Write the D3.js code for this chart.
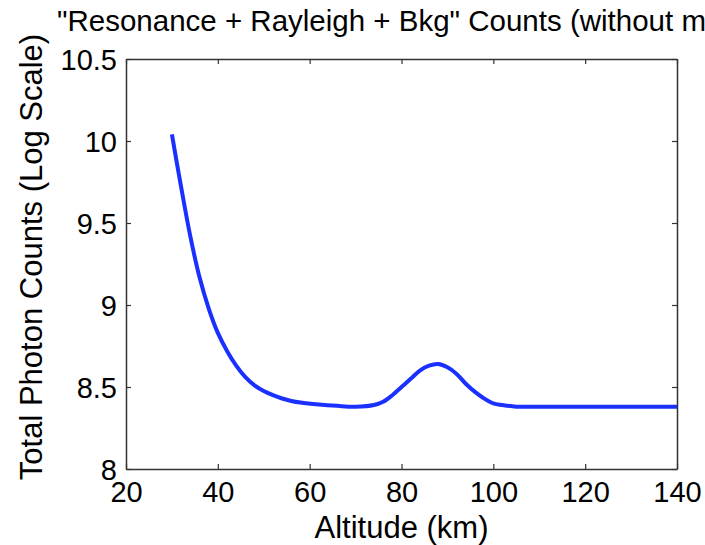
<!DOCTYPE html>
<meta charset="utf-8">
<title>Resonance + Rayleigh + Bkg Counts</title>
<script src="https://cdn.jsdelivr.net/npm/d3@7"></script>
<style>
  body { margin: 0; background: #fff; }
  svg text { font-family: "Liberation Sans", Arial, Helvetica, sans-serif; fill: #000; }
  .axis path, .axis line { stroke: #333; }
</style>
<body>
<svg></svg>
<script>
// altitude (km) and log10 photon counts
var altitude = [30, 32, 34, 36, 38, 40, 42, 44, 46, 48, 50, 52, 54, 56, 58, 62, 66, 70,
                74, 76, 78, 80, 82, 84, 86, 88, 90, 92, 94, 96, 98, 100, 102, 105, 110, 140];
var counts = [10.04, 9.72, 9.42, 9.17, 8.98, 8.83, 8.72, 8.63, 8.56, 8.51, 8.475, 8.45, 8.43, 8.415, 8.405, 8.393, 8.385, 8.38,
              8.39, 8.41, 8.45, 8.50, 8.55, 8.60, 8.63, 8.64, 8.62, 8.58, 8.52, 8.47, 8.43, 8.40, 8.39, 8.38, 8.38, 8.38];

var xTicks = [20, 40, 60, 80, 100, 120, 140];
var yTicks = [8, 8.5, 9, 9.5, 10, 10.5];

var width = 705, height = 545;
var margin = {top: 59, right: 28, bottom: 76, left: 126};

var svg = d3.select("svg")
    .attr("width", width)
    .attr("height", height);

var x = d3.scaleLinear().domain([20, 140]).range([margin.left, width - margin.right]);
var y = d3.scaleLinear().domain([8, 10.5]).range([height - margin.bottom, margin.top]);

var fmt = function(d) { return String(d); };

// box with inward ticks on all sides (matlab style)
svg.append("g").attr("class", "axis")
    .attr("transform", "translate(0," + y(8) + ")")
    .call(d3.axisBottom(x).tickValues(xTicks).tickFormat(fmt).tickSizeInner(-5).tickSizeOuter(0).tickPadding(12))
    .call(function(g) { g.selectAll("text").attr("font-size", 29).attr("dy", "0.72em"); });

svg.append("g").attr("class", "axis")
    .attr("transform", "translate(0," + y(10.5) + ")")
    .call(d3.axisTop(x).tickValues(xTicks).tickFormat("").tickSizeInner(-5).tickSizeOuter(0));

svg.append("g").attr("class", "axis")
    .attr("transform", "translate(" + x(20) + ",0)")
    .call(d3.axisLeft(y).tickValues(yTicks).tickFormat(fmt).tickSizeInner(-5).tickSizeOuter(0).tickPadding(9))
    .call(function(g) { g.selectAll("text").attr("font-size", 29).attr("dy", "0.36em"); });

svg.append("g").attr("class", "axis")
    .attr("transform", "translate(" + x(140) + ",0)")
    .call(d3.axisRight(y).tickValues(yTicks).tickFormat("").tickSizeInner(-5).tickSizeOuter(0));

svg.selectAll(".axis path").attr("stroke-width", 1.5);
svg.selectAll(".axis line").attr("stroke-width", 1.2);

var line = d3.line()
    .x(function(d, i) { return x(altitude[i]); })
    .y(function(d) { return y(d); })
    .curve(d3.curveCatmullRom.alpha(0.5));

svg.append("path")
    .datum(counts)
    .attr("fill", "none")
    .attr("stroke", "#1a30ff")
    .attr("stroke-width", 4)
    .attr("stroke-linejoin", "round")
    .attr("d", line);

// titles
svg.append("text")
    .attr("x", 57).attr("y", 31)
    .attr("font-size", 29.5)
    .text("\"Resonance + Rayleigh + Bkg\" Counts (without m");

svg.append("text")
    .attr("x", (x(20) + x(140)) / 2).attr("y", 538)
    .attr("text-anchor", "middle")
    .attr("font-size", 31)
    .text("Altitude (km)");

svg.append("text")
    .attr("transform", "translate(42,257) rotate(-90)")
    .attr("text-anchor", "middle")
    .attr("font-size", 31)
    .text("Total Photon Counts (Log Scale)");
</script>
</body>
